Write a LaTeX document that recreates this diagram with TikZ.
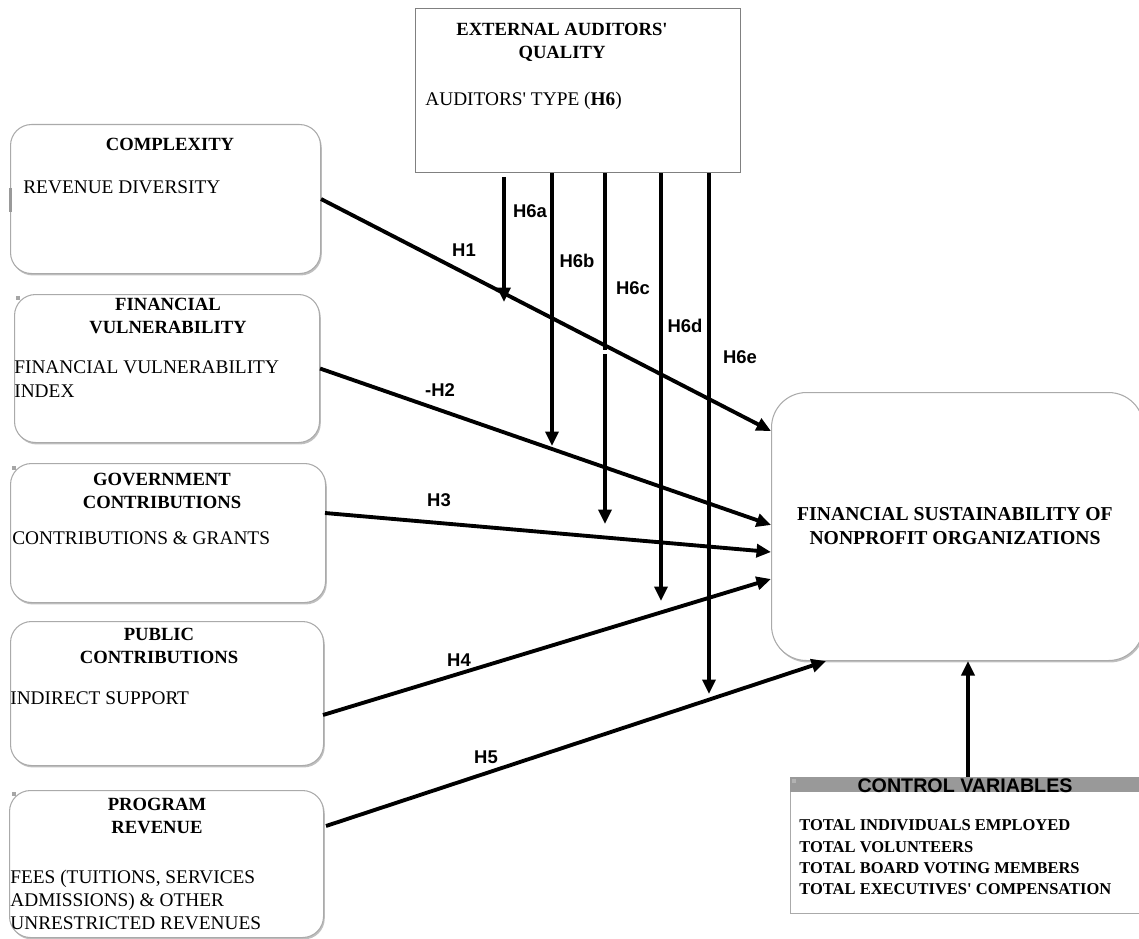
\documentclass[tikz,border=0pt]{standalone}
\usepackage{fontspec}
\setmainfont{Liberation Serif}[Ligatures=TeXOff]
\newfontfamily\arial{Liberation Sans}
\usetikzlibrary{arrows.meta,shadows,calc}
\definecolor{hdrgray}{RGB}{153,153,153}
\definecolor{bordgray}{RGB}{170,170,170}
\begin{document}
\begin{tikzpicture}[x=0.02cm,y=-0.02cm,
  rbox/.style={draw=bordgray, line width=0.6pt, fill=white, rounded corners=0.42cm,
    anchor=north west, inner sep=0pt,
    drop shadow={shadow xshift=0.7pt, shadow yshift=-1.1pt, opacity=0.5, fill=gray}},
  bigbox/.style={rbox, rounded corners=0.7cm},
  sqbox/.style={draw=gray, line width=0.8pt, fill=white, anchor=north west, inner sep=0pt},
  ctrlbox/.style={draw=bordgray, line width=0.8pt, fill=white, anchor=north west, inner sep=0pt},
  ttl/.style={font=\bfseries\fontsize{10.6}{13.1}\selectfont, inner sep=0pt, align=center},
  bigttl/.style={font=\bfseries\fontsize{11.2}{13.6}\selectfont, inner sep=0pt, align=center},
  bd/.style={font=\fontsize{11}{13.4}\selectfont, inner sep=0pt, anchor=west, align=left},
  ctl/.style={font=\bfseries\fontsize{9.4}{12}\selectfont, inner sep=0pt, anchor=west},
  lbl/.style={font=\arial\bfseries\fontsize{10.5}{12}\selectfont, inner sep=0pt},
  arr/.style={line width=2.2pt, -{Triangle[length=2.9mm,width=2.6mm]}},
  speck/.style={fill=gray!70, draw=none}
]
\useasboundingbox (0,0) rectangle (1139,939);

% ---- boxes ----
\node[rbox, minimum width=310*0.02cm, minimum height=149*0.02cm] (cx) at (10,124) {};
\node[rbox, minimum width=305*0.02cm, minimum height=148*0.02cm] (fv) at (14,294) {};
\node[rbox, minimum width=315*0.02cm, minimum height=139*0.02cm] (gov) at (10,463) {};
\node[rbox, minimum width=313*0.02cm, minimum height=144*0.02cm] (pub) at (10,621) {};
\node[rbox, minimum width=314*0.02cm, minimum height=147*0.02cm] (prog) at (9,790) {};
\node[sqbox, minimum width=325*0.02cm, minimum height=164*0.02cm] (aud) at (415,8) {};
\node[bigbox, minimum width=372*0.02cm, minimum height=268*0.02cm] (fs) at (771,392) {};
\node[ctrlbox, minimum width=360*0.02cm, minimum height=136*0.02cm] (ctrl) at (790,777) {};
\fill[hdrgray] (ctrl.north west) rectangle ($(ctrl.north east)+(0,15)$);

% small specks
\fill[speck] (16,296) rectangle (20,300);
\fill[speck] (12,466) rectangle (16,470);
\fill[speck] (12,792) rectangle (16,796);
\fill[gray!80] (9,188) rectangle (12,212);
\fill[gray!60] (792,779) rectangle (796,783);

% ---- texts ----
\node[ttl] (cxt) at (170,144) {COMPLEXITY};
\node[bd] (cxb) at (23,187) {REVENUE DIVERSITY};

\node[ttl] (fvt) at (168,315.5) {FINANCIAL\\VULNERABILITY};
\node[bd, font=\fontsize{11}{13.6}\selectfont] (fvb) at (14,379) {FINANCIAL VULNERABILITY\\INDEX};

\node[ttl] (govt) at (162,490.5) {GOVERNMENT\\CONTRIBUTIONS};
\node[bd] (govb) at (12,538) {CONTRIBUTIONS \& GRANTS};

\node[ttl] (pubt) at (159,645.5) {PUBLIC\\CONTRIBUTIONS};
\node[bd] (pubb) at (10,698) {INDIRECT SUPPORT};

\node[ttl] (progt) at (157,815.5) {PROGRAM\\REVENUE};
\node[bd, font=\fontsize{11}{13.1}\selectfont] (progb) at (10,900) {FEES (TUITIONS, SERVICES\\ADMISSIONS) \& OTHER\\UNRESTRICTED REVENUES};

\node[ttl] (audt) at (562,42) {EXTERNAL AUDITORS'\\QUALITY};
\node[bd] (audb) at (425,101) {AUDITORS' TYPE (\textbf{H6})};

\node[bigttl] (fst) at (955,526) {FINANCIAL SUSTAINABILITY OF\\NONPROFIT ORGANIZATIONS};

\node[font=\arial\bfseries\fontsize{11.2}{12}\selectfont, inner sep=0pt] (ctrlh) at (965,786) {CONTROL VARIABLES};
\node[ctl] (c1) at (799,825) {TOTAL INDIVIDUALS EMPLOYED};
\node[ctl] (c2) at (799,847) {TOTAL VOLUNTEERS};
\node[ctl] (c3) at (799,868) {TOTAL BOARD VOTING MEMBERS};
\node[ctl] (c4) at (799,889) {TOTAL EXECUTIVES' COMPENSATION};

% ---- arrow end points ----
\coordinate (s3) at (325,513);
\coordinate (s4) at (323,715);
\coordinate (s5) at (326,826);
\coordinate (t6a) at (504,302);
\coordinate (t6b) at (552,446);
\coordinate (t6c) at (605,524);
\coordinate (t6d) at (661,601);
\coordinate (t6e) at (709,694);

% ---- hypothesis arrows ----
\draw[arr] (cx.east) -- (fs.west |- 0,431);
\draw[arr] (fv.east) -- (fs.west |- 0,525);
\draw[arr] (s3) -- (fs.west |- 0,552);
\draw[arr] (s4) -- (fs.west |- 0,579);
\draw[arr] (s5) -- (fs.south -| 826,0);

\draw[arr] (504,177) -- (t6a);
\draw[arr] (aud.south -| 552,0) -- (t6b);
\draw[arr] (aud.south -| 605,0) -- (t6c);
\draw[arr] (aud.south -| 661,0) -- (t6d);
\draw[arr] (aud.south -| 709,0) -- (t6e);
\draw[white, line width=3pt] (605,350) -- (605,354);

\draw[arr] (ctrl.north -| 968,0) -- (fs.south -| 968,0);

% ---- labels ----
\node[lbl] (l1) at (464,250) {H1};
\node[lbl] (l2) at (440,390) {-H2};
\node[lbl] (l3) at (439,500) {H3};
\node[lbl] (l4) at (459,660) {H4};
\node[lbl] (l5) at (486,757) {H5};
\node[lbl] (l6a) at (530,211) {H6a};
\node[lbl] (l6b) at (577,261) {H6b};
\node[lbl] (l6c) at (633,288) {H6c};
\node[lbl] (l6d) at (685,326) {H6d};
\node[lbl] (l6e) at (740,357) {H6e};
\end{tikzpicture}
\end{document}
